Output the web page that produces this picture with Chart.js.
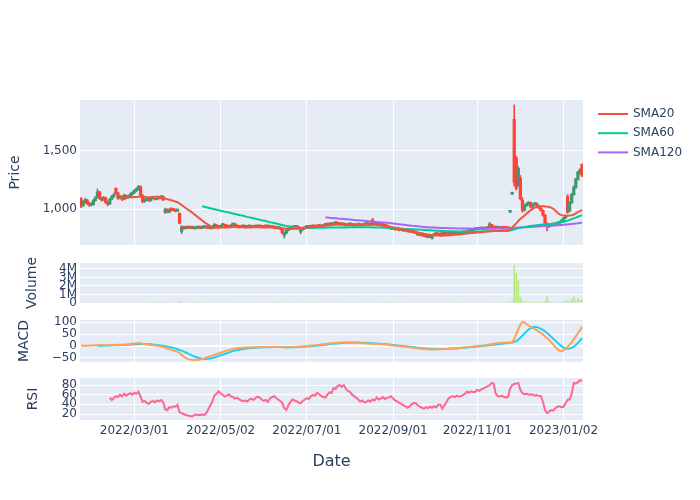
<!DOCTYPE html>
<html><head><meta charset="utf-8">
<script src="https://cdn.jsdelivr.net/npm/chart.js@4.4.1/dist/chart.umd.min.js"></script>
<style>
html,body{margin:0;padding:0;background:#fff;}
#wrap{position:relative;width:700px;height:500px;overflow:hidden;}
#wrap canvas{position:absolute;left:0;top:0;}
</style></head><body>
<div id="wrap">
<canvas id="cPrice" width="700" height="500"></canvas>
<canvas id="cVol" width="700" height="500"></canvas>
<canvas id="cMacd" width="700" height="500"></canvas>
<canvas id="cRsi" width="700" height="500"></canvas>
</div>
<script>
// ---- x axis ticks (trading-day index -> label) ----
const tickIndex = [26, 68, 110, 152, 193, 235];
const tickLabels = ['2022/03/01', '2022/05/02', '2022/07/01', '2022/09/01', '2022/11/01', '2023/01/02'];

// ---- y axis ticks ----
const priceTicks = [1000, 1500];
const volumeTicks = [0, 1000000, 2000000, 3000000, 4000000];
const macdTicks = [-50, 0, 50, 100];
const rsiTicks = [20, 40, 60, 80];

// ---- OHLC ----
const open = [
1090,1030,1060,1080,1050,1035,1040,1075,1100,1150,
1095,1080,1100,1060,1045,1085,1110,1180,1140,1095,
1110,1085,1120,1100,1110,1130,1145,1160,1175,1195,
1120,1065,1080,1090,1075,1095,1100,1085,1105,1095,
1110,975,1000,975,1000,995,990,985,965,810,
850,835,850,840,838,845,835,840,842,838,
845,850,840,845,835,855,865,850,845,860,
870,855,850,845,865,875,860,850,845,855,
850,845,850,855,845,850,848,855,850,845,
852,850,848,845,850,840,835,845,830,775,
795,820,838,840,845,850,845,805,825,835,
845,850,845,855,850,848,860,855,850,862,
870,865,875,870,878,880,872,868,875,865,
860,868,870,862,858,865,870,860,865,870,
872,868,910,880,872,866,862,872,860,855,
850,840,830,835,825,830,820,828,815,820,
810,805,810,800,795,780,790,775,770,765,
760,752,775,790,785,780,790,785,792,788,
795,790,785,795,800,792,798,805,800,810,
815,820,825,830,828,832,835,830,838,840,
870,845,840,838,842,835,840,838,836,975,
1130,1770,1440,1215,1265,1080,990,1030,1045,1060,
1020,1040,1050,1030,1010,990,950,880,850,860,
870,865,875,880,890,905,925,1110,985,1055,
1125,1185,1255,1315,1385];
const high = [
1100,1075,1095,1085,1060,1055,1085,1110,1175,1155,
1105,1110,1105,1070,1095,1120,1140,1185,1145,1120,
1115,1130,1125,1120,1140,1150,1170,1185,1205,1200,
1125,1090,1100,1095,1100,1110,1105,1115,1110,1120,
1115,1010,1005,1005,1005,1000,995,1000,970,860,
855,855,852,845,850,848,845,848,845,850,
855,852,850,848,860,880,868,855,865,880,
872,858,855,870,882,878,862,855,860,858,
852,855,860,858,855,852,860,858,852,856,
855,852,850,855,852,845,850,848,832,805,
825,842,845,850,852,852,848,830,840,848,
852,853,860,858,852,865,862,858,866,875,
872,880,878,882,885,882,875,880,878,868,
872,875,872,865,870,875,872,870,875,876,
874,880,922,884,874,870,875,874,862,858,
852,842,840,838,834,832,832,830,825,822,
812,815,812,803,798,795,792,778,773,768,
775,778,792,795,790,795,792,796,794,798,
797,792,798,804,802,800,808,807,812,818,
824,828,834,832,836,838,837,842,840,888,
872,848,842,845,844,842,842,840,838,978,
1134,1895,1455,1365,1290,1100,1040,1055,1065,1062,
1048,1058,1055,1035,1015,995,955,885,868,878,
872,880,885,895,910,930,950,1125,1065,1135,
1200,1265,1325,1350,1390];
const low = [
1015,1025,1050,1040,1025,1030,1035,1070,1095,1085,
1070,1075,1050,1030,1040,1080,1100,1130,1085,1090,
1075,1080,1090,1095,1105,1120,1135,1150,1165,1110,
1055,1060,1075,1065,1070,1090,1080,1080,1090,1090,
1075,965,970,970,985,985,978,980,875,790,
830,830,835,832,835,830,832,836,832,835,
840,835,836,830,832,850,845,840,842,855,
850,845,840,842,860,855,845,840,842,845,
840,842,848,840,842,845,845,846,840,842,
846,844,840,842,836,830,832,825,790,754,
790,815,832,836,840,838,830,790,820,830,
840,840,842,846,844,845,850,846,848,858,
860,862,866,868,872,868,864,865,860,856,
857,864,858,852,855,862,856,857,862,866,
864,865,875,868,862,858,860,856,850,846,
836,826,828,820,822,815,818,810,812,805,
800,802,796,790,776,776,770,766,760,755,
756,745,772,780,775,778,780,782,784,785,
786,782,783,792,789,790,795,797,798,806,
812,817,822,824,826,829,827,828,830,835,
840,835,832,835,832,832,834,832,830,972,
1127,1200,1165,1200,1080,975,985,1025,1035,1010,
1015,1035,1025,1005,985,940,870,815,845,855,
858,862,870,876,886,900,920,965,980,1050,
1120,1180,1250,1300,1280];
const close = [
1030,1065,1080,1050,1035,1040,1075,1100,1150,1095,
1080,1100,1060,1045,1085,1110,1125,1140,1095,1110,
1085,1120,1100,1110,1130,1145,1160,1175,1195,1120,
1065,1080,1090,1075,1095,1100,1085,1105,1095,1110,
1080,1000,975,1000,995,990,985,995,880,850,
835,850,840,838,845,835,840,842,838,845,
850,840,845,835,855,865,850,845,860,870,
855,850,845,865,875,860,850,845,855,850,
845,850,855,845,850,848,855,850,845,852,
850,848,845,850,840,835,845,830,800,795,
820,838,840,845,850,845,835,825,835,845,
850,845,855,850,848,860,855,850,862,870,
865,875,870,878,880,872,868,875,865,860,
868,870,862,858,865,870,860,865,870,872,
868,875,880,872,866,862,872,860,855,850,
840,830,835,825,830,820,828,815,820,810,
805,810,800,795,780,790,775,770,765,760,
770,775,790,785,780,790,785,792,788,795,
790,785,795,800,792,798,805,800,810,815,
820,825,830,828,832,835,830,838,835,875,
845,840,838,842,835,840,838,836,834,976,
1132,1230,1180,1350,1090,990,1030,1045,1060,1020,
1040,1050,1030,1010,990,950,880,850,860,870,
865,875,880,890,905,925,945,975,1060,1130,
1190,1260,1320,1340,1290];

// ---- volume ----
const volume = [
40000,35000,50000,45000,30000,28000,42000,55000,90000,60000,
45000,40000,50000,38000,35000,48000,52000,85000,60000,40000,
38000,45000,40000,36000,42000,50000,58000,62000,80000,70000,
65000,40000,36000,34000,38000,35000,33000,37000,35000,40000,
60000,180000,120000,90000,70000,60000,55000,60000,220000,160000,
70000,50000,45000,40000,42000,38000,36000,35000,34000,36000,
38000,35000,34000,36000,45000,60000,40000,36000,42000,55000,
40000,36000,34000,45000,52000,40000,35000,33000,36000,34000,
32000,33000,36000,34000,33000,32000,35000,33000,32000,34000,
33000,32000,31000,33000,34000,35000,36000,38000,70000,90000,
60000,45000,38000,36000,35000,34000,36000,60000,45000,40000,
38000,36000,40000,36000,34000,42000,38000,36000,44000,48000,
42000,46000,40000,45000,48000,42000,38000,44000,40000,36000,
40000,42000,38000,36000,40000,42000,38000,40000,42000,44000,
40000,45000,90000,50000,42000,40000,44000,40000,38000,36000,
40000,42000,38000,40000,36000,38000,35000,40000,36000,38000,
40000,36000,42000,40000,50000,45000,48000,44000,42000,45000,
44000,60000,55000,48000,42000,44000,40000,42000,38000,40000,
38000,36000,40000,42000,38000,40000,44000,40000,45000,48000,
50000,48000,52000,46000,44000,45000,42000,46000,44000,120000,
60000,45000,40000,38000,40000,38000,36000,37000,38000,150000,
260000,4470000,3500000,2700000,700000,250000,180000,150000,140000,120000,
130000,110000,120000,100000,110000,160000,240000,780000,200000,120000,
100000,110000,100000,120000,140000,160000,180000,300000,250000,450000,
750000,300000,600000,350000,400000];

// ---- indicators ----
const sma20 = [
null,null,null,null,null,null,null,null,null,null,
null,null,null,null,null,null,null,null,null,1098,
1099,1100,1101,1102,1103,1104,1105,1106,1107,1107,
1106,1105,1104,1104,1103,1103,1104,1104,1103,1102,
1097,1093,1087,1082,1077,1072,1067,1061,1050,1037,
1024,1011,998,986,974,960,946,932,918,904,
890,878,866,855,846,842,841,841,842,843,
844,845,846,847,848,848,847,847,846,846,
845,845,845,846,846,847,847,846,846,845,
845,844,844,843,843,842,842,840,838,836,
834,833,832,832,833,834,835,836,838,840,
842,844,846,848,850,852,854,856,858,860,
862,864,866,867,868,869,870,870,870,870,
870,870,869,869,869,869,868,868,868,868,
868,868,868,867,866,865,863,860,857,854,
851,848,845,842,839,836,832,829,826,822,
818,814,810,806,802,798,794,790,787,784,
781,778,776,775,775,774,774,775,776,777,
778,780,781,783,785,787,789,790,792,794,
796,797,799,801,803,804,806,807,809,811,
812,813,814,815,816,816,816,817,817,834,
845,860,880,900,918,932,946,962,978,992,
1004,1015,1020,1024,1026,1026,1025,1023,1020,1015,
1005,990,972,958,950,946,945,945,946,948,
955,965,975,985,995];
const sma60 = [
null,null,null,null,null,null,null,null,null,null,
null,null,null,null,null,null,null,null,null,null,
null,null,null,null,null,null,null,null,null,null,
null,null,null,null,null,null,null,null,null,null,
null,null,null,null,null,null,null,null,null,null,
null,null,null,null,null,null,null,null,null,1026,
1022,1018,1013,1009,1005,1001,997,993,988,984,
980,976,972,968,964,960,956,952,948,944,
939,935,931,927,923,919,915,911,907,903,
899,894,890,886,882,878,874,870,866,862,
858,854,850,846,843,841,840,839,839,839,
839,840,840,840,841,841,841,842,842,842,
843,843,843,844,844,844,845,845,845,845,
846,846,846,846,846,846,846,846,846,846,
846,846,845,845,845,844,844,843,842,841,
840,839,838,837,836,835,834,833,832,831,
830,829,828,827,826,825,824,823,822,821,
820,819,818,817,816,815,814,813,812,812,
811,811,810,810,809,809,808,808,808,808,
808,808,809,809,810,810,811,811,812,812,
813,814,814,815,815,816,816,816,817,819,
822,828,833,838,842,845,848,851,854,857,
860,862,864,866,868,870,871,872,873,874,
876,878,881,884,888,892,897,903,909,915,
922,929,936,943,950];
const sma120 = [
null,null,null,null,null,null,null,null,null,null,
null,null,null,null,null,null,null,null,null,null,
null,null,null,null,null,null,null,null,null,null,
null,null,null,null,null,null,null,null,null,null,
null,null,null,null,null,null,null,null,null,null,
null,null,null,null,null,null,null,null,null,null,
null,null,null,null,null,null,null,null,null,null,
null,null,null,null,null,null,null,null,null,null,
null,null,null,null,null,null,null,null,null,null,
null,null,null,null,null,null,null,null,null,null,
null,null,null,null,null,null,null,null,null,null,
null,null,null,null,null,null,null,null,null,930,
929,927,926,924,923,921,920,918,917,915,
914,912,911,909,907,906,904,903,901,900,
898,897,895,893,892,890,889,887,886,884,
882,880,878,876,874,872,870,868,866,864,
862,860,858,856,854,852,850,849,847,846,
845,844,843,842,841,840,840,839,839,838,
838,837,837,836,836,836,835,835,835,835,
834,834,834,834,834,834,834,834,834,834,
834,834,834,835,835,835,835,835,835,836,
837,839,841,843,844,845,846,847,848,849,
850,851,852,853,854,855,856,857,858,860,
861,862,864,865,866,868,869,870,872,874,
876,878,880,883,886];
const macd = [
0,0.5,1,1,1.5,1.5,2,2.5,3,3,
3.5,3.5,3,3,3,3.5,4,4.5,4.5,5,
5,5.5,6,7,8,9,10,11,12,11,
9,8,6,5,4,3,2,1,-1,-3,
-5,-8,-11,-14,-17,-20,-22,-24,-30,-38,
-45,-51,-55,-58,-59,-60,-60,-59,-58,-56,
-53,-50,-47,-44,-41,-38,-35,-32,-29,-26,
-23,-20,-17,-15,-13,-11,-10,-9,-8,-8,
-7,-7,-7,-6,-6,-6,-6,-6,-5,-5,
-5,-5,-5,-5,-5,-5,-5,-5,-6,-7,
-7,-7,-6,-6,-5,-4,-4,-3,-3,-2,
-1,0,1,2,3,4,5,6,7,8,
9,10,11,12,12,13,13,14,14,14,
14,14,14,13,13,12,12,11,11,10,
10,9,9,9,8,8,7,7,6,5,
4,3,2,1,0,-1,-2,-3,-4,-5,
-6,-7,-8,-9,-10,-11,-12,-13,-14,-14,
-15,-15,-15,-15,-14,-14,-14,-13,-13,-12,
-12,-11,-10,-10,-9,-8,-7,-7,-6,-5,
-4,-3,-2,-1,0,1,2,3,4,6,
8,9,10,11,12,13,13,14,14,14,
15,30,50,70,90,101,98,92,86,80,
75,70,65,60,55,48,40,32,25,15,
5,-5,-14,-20,-22,-18,-12,-4,5,15,
27,40,53,66,80];
const signal = [
null,null,null,null,null,null,null,null,0,0.5,
1,1,1.5,2,2,2.5,2.5,3,3,3.5,
3.5,4,4,4.5,5,5.5,6,6.5,7,7.5,
8,8,7.5,7,6.5,6,5,4,3,2,
1,-1,-3,-5,-7,-9,-11,-14,-17,-20,
-24,-28,-32,-36,-40,-44,-47,-50,-52,-54,
-55,-55,-54,-53,-51,-49,-46,-43,-40,-37,
-34,-31,-28,-25,-22,-20,-18,-16,-14,-13,
-12,-11,-10,-9,-8,-8,-7,-7,-7,-6,
-6,-6,-6,-6,-5,-5,-5,-5,-5,-5,
-6,-6,-6,-6,-6,-5,-5,-5,-4,-4,
-3,-2,-2,-1,0,1,2,3,4,5,
6,7,8,9,10,10,11,12,12,13,
13,13,14,14,14,14,13,13,13,12,
12,11,11,10,10,9,9,8,8,7,
6,5,4,3,2,1,0,-1,-2,-3,
-4,-5,-6,-7,-8,-9,-10,-11,-11,-12,
-12,-13,-13,-13,-13,-13,-13,-13,-13,-12,
-12,-12,-11,-11,-10,-9,-9,-8,-7,-6,
-5,-5,-4,-3,-2,-1,0,1,2,3,
4,5,6,7,8,9,10,11,12,13,
14,16,20,26,34,43,52,61,69,75,
79,80,79,76,72,67,61,54,47,38,
30,22,14,6,-1,-7,-11,-12,-11,-8,
-3,4,12,22,33];
const rsi = [
null,null,null,null,null,null,null,null,null,null,
null,null,null,null,54,49,53,57,55,60,
56,62,58,61,63,60,64,62,66,56,
45,47,43,41,45,47,44,48,46,49,
45,30,28,34,33,36,35,39,24,22,
20,18,17,16,15,17,19,18,18,19,
18,22,30,38,46,58,62,67,63,60,
56,58,61,57,55,52,54,50,48,47,
48,46,50,52,49,53,56,54,50,47,
49,45,52,55,57,53,50,47,43,32,
28,38,45,50,48,46,44,42,47,50,
53,51,57,59,58,64,61,57,55,54,
60,65,63,74,72,78,80,76,80,72,
68,66,60,57,54,50,46,48,44,45,
48,46,50,48,54,50,52,55,51,53,
55,57,52,48,46,43,41,38,36,33,
35,40,43,43,38,35,33,31,34,32,
35,33,36,34,39,39,31,38,45,52,
55,57,55,58,56,57,59,62,66,64,
67,65,66,70,68,71,73,75,77,80,
84,83,62,57,56,58,55,54,55,72,
80,82,83,84,70,63,61,62,60,61,
60,58,59,57,57,45,28,22,25,28,
27,32,35,36,34,35,42,49,50,62,
84,83,86,90,88];

// ---- styling ----
const N = close.length;
const FONT = '"DejaVu Sans", Verdana, sans-serif';
const TXT = '#2a3f5f';
const BG = '#E5ECF6';
const UP = '#3D9970', DOWN = '#FF4136';
const PLOT_LEFT = 80, PLOT_RIGHT = 583;

const bgPlugin = {
  id: 'plotBg',
  beforeDraw(c) {
    const a = c.chartArea, ctx = c.ctx;
    ctx.save(); ctx.fillStyle = BG;
    ctx.fillRect(a.left, a.top, a.right - a.left, a.bottom - a.top);
    ctx.restore();
  }
};

const legendPlugin = {
  id: 'smaLegend',
  afterDraw(c) {
    const ctx = c.ctx;
    const items = c.data.datasets.filter(d => d.type === 'line');
    ctx.save();
    ctx.font = '12px ' + FONT;
    ctx.textBaseline = 'middle';
    items.forEach((d, k) => {
      const y = 114 + k * 19.2;
      ctx.strokeStyle = d.borderColor; ctx.lineWidth = 2;
      ctx.beginPath(); ctx.moveTo(598, y); ctx.lineTo(628, y); ctx.stroke();
      ctx.fillStyle = TXT; ctx.fillText(d.label, 633, y);
    });
    ctx.restore();
  }
};

function xScale(showLabels, showGrid) {
  return {
    type: 'linear', min: -0.5, max: N - 0.5, offset: false,
    afterBuildTicks: s => { s.ticks = tickIndex.map(v => ({ value: v })); },
    afterFit: s => { s.height = showLabels ? 60 : 0; },
    ticks: {
      display: showLabels, autoSkip: false, maxRotation: 0, minRotation: 0, padding: 4,
      color: TXT, font: { family: FONT, size: 12 },
      callback: v => { const k = tickIndex.indexOf(v); return k >= 0 ? tickLabels[k] : ''; }
    },
    grid: { display: showGrid, color: '#ffffff', lineWidth: 1, drawTicks: false, offset: false },
    border: { display: false },
    title: { display: showLabels, text: 'Date', color: TXT, font: { family: FONT, size: 16 }, padding: { top: 0, bottom: 9 } }
  };
}

function yScale(min, max, ticks, fmt, title, titlePad, zeroWidth) {
  return {
    type: 'linear', min: min, max: max, position: 'left',
    afterBuildTicks: s => { s.ticks = ticks.map(v => ({ value: v })); },
    afterFit: s => { s.width = PLOT_LEFT; },
    ticks: { padding: 3, autoSkip: false, color: TXT, font: { family: FONT, size: 12 }, callback: fmt },
    grid: {
      color: '#ffffff', drawTicks: false,
      lineWidth: ctx => (zeroWidth && ctx.tick && ctx.tick.value === 0) ? 2 : 1
    },
    border: { display: false },
    title: { display: true, text: title, color: TXT, font: { family: FONT, size: 14 }, padding: { top: titlePad, bottom: 0 } }
  };
}

function panel(id, top, bottom, hasLabels, datasets, yCfg, showXGrid, extra) {
  const xH = hasLabels ? 60 : 0;
  return new Chart(document.getElementById(id), {
    type: 'bar',
    data: { datasets: datasets },
    options: {
      responsive: false, animation: false, devicePixelRatio: 1, events: [],
      layout: { padding: { left: 0, right: 700 - PLOT_RIGHT, top: top, bottom: 500 - bottom - xH } },
      plugins: { legend: { display: false }, tooltip: { enabled: false } },
      scales: { x: xScale(hasLabels, showXGrid), y: yCfg }
    },
    plugins: [bgPlugin].concat(extra || [])
  });
}

const candleColor = ctx => close[ctx.dataIndex] >= open[ctx.dataIndex] ? UP : DOWN;
const xy = arr => arr.map((v, i) => ({ x: i, y: v }));

// ---- price panel ----
panel('cPrice', 100, 245, false, [
  { type: 'line', label: 'SMA20', data: xy(sma20), borderColor: '#EF553B', borderWidth: 2, pointRadius: 0, order: 0 },
  { type: 'line', label: 'SMA60', data: xy(sma60), borderColor: '#00CC96', borderWidth: 2, pointRadius: 0, order: 0 },
  { type: 'line', label: 'SMA120', data: xy(sma120), borderColor: '#AB63FA', borderWidth: 2, pointRadius: 0, order: 0 },
  { label: 'body', data: close.map((c, i) => ({ x: i, y: [open[i], c] })), backgroundColor: candleColor,
    barThickness: 2.6, grouped: false, minBarLength: 2, order: 1 },
  { label: 'wick', data: close.map((c, i) => ({ x: i, y: [low[i], high[i]] })), backgroundColor: candleColor,
    barThickness: 1, grouped: false, order: 2 }
], yScale(694, 1937, priceTicks, v => v.toLocaleString('en-US'), 'Price', 7, false), true, [legendPlugin]);

// ---- volume panel ----
panel('cVol', 263, 303, false, [
  { label: 'Volume', data: xy(volume), backgroundColor: '#B6E880', barPercentage: 0.8, categoryPercentage: 1.0, grouped: false }
], yScale(0, 4700000, volumeTicks, v => v === 0 ? '0' : (v / 1e6) + 'M', 'Volume', 24, false), false);

// ---- MACD panel ----
panel('cMacd', 320, 362, false, [
  { type: 'line', label: 'MACD', data: xy(macd), borderColor: '#FFA15A', borderWidth: 2, pointRadius: 0 },
  { type: 'line', label: 'Signal', data: xy(signal), borderColor: '#19D3F3', borderWidth: 2, pointRadius: 0 }
], yScale(-68, 109, macdTicks, v => v < 0 ? '\u2212' + Math.abs(v) : String(v), 'MACD', 16, true), true);

// ---- RSI panel ----
panel('cRsi', 378, 420, true, [
  { type: 'line', label: 'RSI', data: xy(rsi), borderColor: '#FF6692', borderWidth: 2, pointRadius: 0 }
], yScale(7.6, 94.5, rsiTicks, v => String(v), 'RSI', 25, false), true);
</script>
</body></html>
